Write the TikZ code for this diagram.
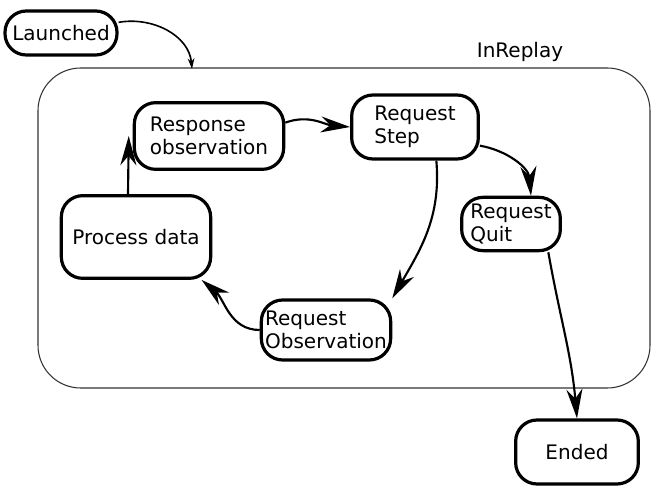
\documentclass[tikz,border=0pt]{standalone}
\usepackage{fontspec}
\setmainfont{DejaVu Sans}
\usetikzlibrary{positioning,arrows.meta}

\tikzset{
  stbox/.style={draw, line width=2.4pt, rounded corners=16pt, inner sep=2pt,
                align=left, font=\fontsize{15}{17.5}\selectfont},
  frame/.style={draw, black!80, line width=0.8pt, rounded corners=32pt},
  trans/.style={line width=1.6pt, -{Stealth[length=22pt,width=12pt]}}
}

\begin{document}
\begin{tikzpicture}[x=0.75pt,y=-0.75pt]
    \useasboundingbox (0,0) rectangle (658,491);
    \node[frame, minimum width=459pt, minimum height=240pt] (inreplay) at (344,228) {};
    \node[font=\fontsize{15}{17.5}\selectfont] (lbl) at (520,52) {InReplay};
    \coordinate (entry) at (192,69);

    \node[stbox, minimum width=84pt, minimum height=33pt]  (launched) at (61,33)   {Launched};
    \node[stbox, minimum width=112pt, minimum height=50pt] (resp)     at (209,136) {Response\\observation};
    \node[stbox, minimum width=95pt, minimum height=48pt]  (step)     at (415,127) {Request\\Step};
    \node[stbox, minimum width=74pt, minimum height=40pt]  (quit)     at (511,224) {Request\\Quit};
    \node[stbox, minimum width=112pt, minimum height=62pt] (process)  at (136,237) {Process data};
    \node[stbox, minimum width=97pt, minimum height=45pt]  (reqobs)   at (326,330) {Request\\Observation};
    \node[stbox, minimum width=92pt, minimum height=48pt]  (ended)    at (577,452) {Ended};

    \draw[line width=1.2pt, -{Stealth[length=8pt,width=5pt]}]
          ([yshift=8pt]launched.east) to [out=10,in=95] (entry);
    \path[trans] ([yshift=10pt]resp.east) edge [out=20,in=175]  (step.west)
                 ([yshift=-14pt]step.east) edge [out=-10,in=95] ([xshift=15pt]quit.north)
                 ([xshift=16pt]step.south) edge [out=-85,in=60] (reqobs.north east)
                 (reqobs.west)             edge [out=180,in=-40] ([xshift=-8pt]process.south east)
                 ([xshift=-6pt]process.north) edge ([xshift=-3pt]resp.west)
                 ([xshift=28pt]quit.south) edge [out=-80,in=95] (ended.north);
\end{tikzpicture}
\end{document}
